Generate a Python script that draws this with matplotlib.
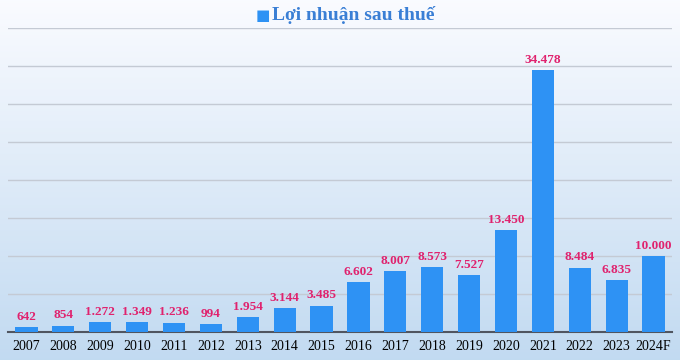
import matplotlib
matplotlib.use("Agg")
import matplotlib.pyplot as plt
import numpy as np

years = ["2007", "2008", "2009", "2010", "2011", "2012", "2013", "2014", "2015",
         "2016", "2017", "2018", "2019", "2020", "2021", "2022", "2023", "2024F"]
profit = [642, 854, 1272, 1349, 1236, 994, 1954, 3144, 3485,
          6602, 8007, 8573, 7527, 13450, 34478, 8484, 6835, 10000]
series_name = "Lợi nhuận sau thuế"

plt.rcParams['font.family'] = ['Liberation Serif', 'DejaVu Serif']

fig = plt.figure(figsize=(6.8, 3.6), dpi=100)

# gradient background
bg = fig.add_axes([0, 0, 1, 1], zorder=-10)
grad = np.linspace(0, 1, 256).reshape(-1, 1)
top = np.array([0.98, 0.985, 1.0])
bot = np.array([0.76, 0.855, 0.945])
img = top[None, None, :] * (1 - grad[:, :, None]) + bot[None, None, :] * grad[:, :, None]
bg.imshow(img, aspect='auto', extent=[0, 1, 0, 1])
bg.axis('off')

ax = fig.add_axes([8/680, 28/360, 664/680, 304/360])
ax.patch.set_alpha(0)
x = np.arange(len(years))
ax.bar(x, profit, width=0.6, color='#2e92f4', zorder=3)
ax.set_xlim(-0.5, len(years) - 0.5)
ax.set_ylim(0, 40000)
ax.set_yticks(np.arange(0, 40001, 5000))
ax.yaxis.grid(True, color='#c4cad4', linewidth=1.0, zorder=0)
ax.set_axisbelow(True)
ax.tick_params(axis='y', left=False, labelleft=False)
ax.tick_params(axis='x', length=0, pad=6, labelsize=10)
ax.set_xticks(x)
ax.set_xticklabels(years)
for s in ['top', 'right', 'left']:
    ax.spines[s].set_visible(False)
ax.spines['bottom'].set_color('#505560')
ax.spines['bottom'].set_linewidth(1.5)

for xi, v in zip(x, profit):
    label = f"{v:,}".replace(",", ".")
    ax.text(xi, v + 550, label, ha='center', va='bottom', color='#e0226e',
            fontsize=9.5, fontweight='bold', zorder=4)

# legend
fig.text(0.387, 0.958, "■", color='#2e92f4', fontsize=11, ha='center', va='center',
         family=['DejaVu Sans'])
fig.text(0.40, 0.958, series_name, color='#3a7fd5', fontsize=14, fontweight='bold',
         ha='left', va='center')

fig.savefig("out.png", dpi=100)
